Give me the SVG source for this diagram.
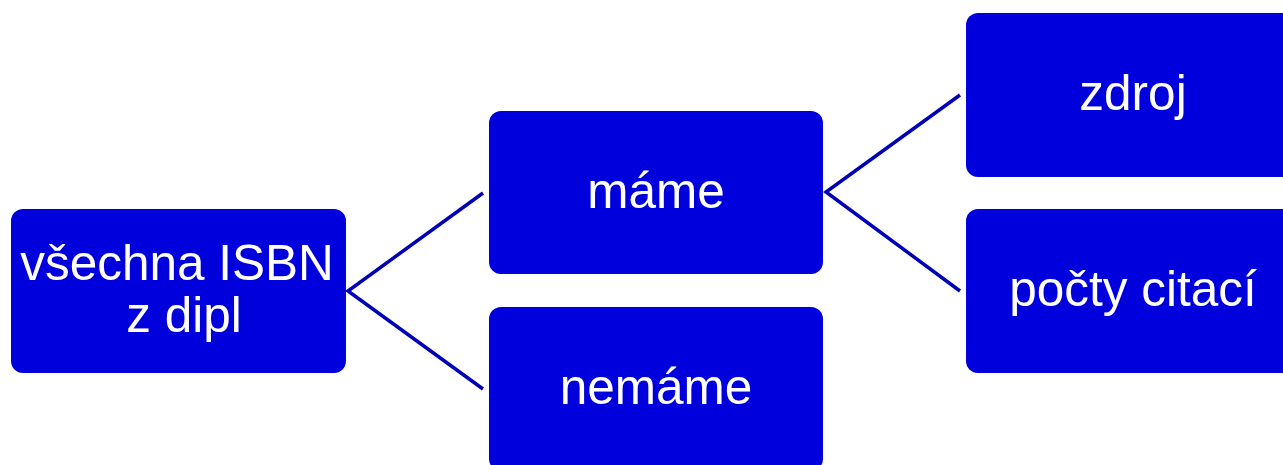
<svg xmlns="http://www.w3.org/2000/svg" width="1283" height="465" viewBox="0 0 1283 465">
<style>
.box{fill:#0000DC;}
.lbl{fill:#FFFFFF;font-family:"Liberation Sans",Arial,sans-serif;font-size:49.5px;text-anchor:middle;}
.conn{stroke:#0000B8;stroke-width:3.5;fill:none;}
</style>
<rect width="1283" height="465" fill="#FFFFFF"/>
<g id="connectors">
<polyline class="conn" points="483,193 348,291 483,389"/>
<polyline class="conn" points="960,95 826,192 960,291"/>
</g>
<g id="node-vsechna">
<rect class="box" x="11" y="209" width="335" height="164" rx="12"/>
<text class="lbl" x="177" y="280">všechna ISBN</text>
<text class="lbl" x="184" y="332">z dipl</text>
</g>
<g id="node-mame">
<rect class="box" x="489" y="111" width="334" height="163" rx="12"/>
<text class="lbl" x="656" y="208">máme</text>
</g>
<g id="node-nemame">
<rect class="box" x="489" y="307" width="334" height="164" rx="12"/>
<text class="lbl" x="656" y="404">nemáme</text>
</g>
<g id="node-zdroj">
<rect class="box" x="966" y="13" width="334" height="164" rx="12"/>
<text class="lbl" x="1133" y="110">zdroj</text>
</g>
<g id="node-pocty">
<rect class="box" x="966" y="209" width="334" height="164" rx="12"/>
<text class="lbl" x="1133" y="306">počty citací</text>
</g>
</svg>
